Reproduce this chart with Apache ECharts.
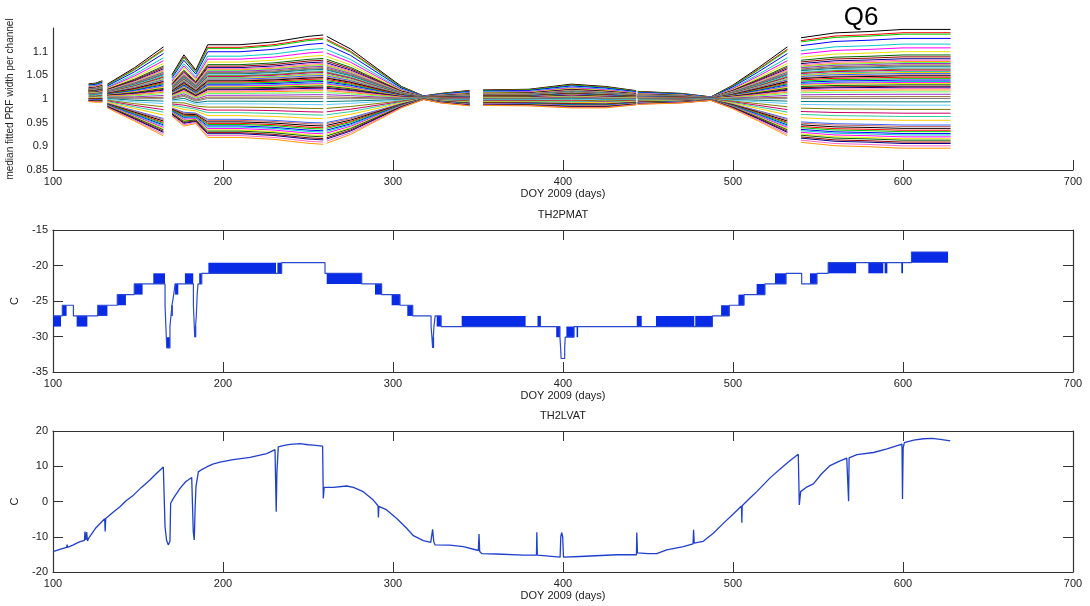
<!DOCTYPE html>
<html><head><meta charset="utf-8">
<script src="https://cdn.jsdelivr.net/npm/echarts@6/dist/echarts.min.js"></script>
<style>html,body{margin:0;padding:0;background:#fff}#chart{width:1090px;height:606px}</style>
</head><body><div id="chart"></div>
<script>
// ---------- Panel 1: median fitted PRF width per channel ----------
// key days of each quarter segment (gap markers break the lines)
const prfKeyDays = [121,125,129,130.5, 132,148,165,167.5, 170,177,184,191,210,230,250,259,260.3,
  261,275,290,305,318,328,345,352, 353,380,405,425,443,443.5, 444,470,487,500,515,532,536, 540,560,580,600,628];
// common offset of all channels at each key day (null = gap)
const prfShift = [0.01,0.01,0.012,null, 0.002,0,0,null, 0,0.005,-0.005,0,0,0,0,0,null,
  0,0,0,0,0.002,0,-0.001,null, 0,0,0.002,0,0,null, 0,0,0,0,0,0,null, 0,0,0,0,0];
// relative fan-out of the channels at each key day (1 = spread seen in Q6)
const prfSpread = [0.15,0.16,0.18,null, 0.2,0.45,0.75,null, 0.35,0.6,0.45,0.78,0.78,0.82,0.9,0.92,null,
  0.9,0.72,0.45,0.18,0.03,0.08,0.13,null, 0.13,0.14,0.2,0.18,0.12,null, 0.11,0.08,0.03,0.2,0.45,0.75,null, 0.88,0.95,0.97,1,1];
// deviation of each channel from 1, read in Q6
const prfChannelDev = [0.147,0.140,0.137,0.128,0.116,0.108,0.100,0.093,0.089,0.085,0.082,0.079,0.077,0.075,0.072,
  0.070,0.068,0.065,0.063,0.061,0.058,0.056,0.054,0.051,0.049,0.046,0.043,0.040,0.037,0.035,0.033,0.030,0.027,
  0.025,0.022,0.019,0.015,0.010,0.005,0.001,-0.006,-0.013,-0.022,-0.030,-0.037,-0.045,-0.055,-0.058,-0.062,
  -0.066,-0.069,-0.073,-0.076,-0.080,-0.084,-0.087,-0.091,-0.094,-0.099,-0.104];
const prfColors = ['#000000','#ff0000','#00cc00','#0000ff','#00cccc','#ff00ff','#e6e600','#006600','#990000',
  '#000080','#ff66cc','#ff9900','#66ff66','#9933cc','#996633','#808080','#008080','#66ccff','#808000','#cc0066',
  '#33cc99','#ffcc00','#3366ff','#cc6666'];

// ---------- Panel 2: TH2PMAT ----------
const pmatPathDays = [100,105.5,112,126.3,137.8,147.8,165.9,166.4,166.9,168.8,169.4,170,171,171.8,182.6,183.1,183.4,
  184.3,184.8,185.3,187.5,234.5,260,281.6,293.3,304.1,311.6,322.4,322.9,323.3,324.1,324.8,328.3,398.2,398.6,398.9,
  401,401.3,406.5,487.9,497.8,506.5,518.8,531.2,540.4,549.4,556,605,626.5];
const pmatPathLevels = [-27.1,-25.6,-27.1,-25.6,-24.1,-22.6,-25.6,-28.6,-31.6,-28.6,-27.1,-25.6,-24.1,-22.6,-25.6,-28.6,-30.1,
  -27.1,-24.1,-22.6,-21.1,-19.6,-21.1,-22.6,-24.1,-25.6,-27.1,-28.6,-30.1,-31.6,-28.6,-27.1,-28.6,-30.1,-31.6,-33.1,
  -31.6,-30.1,-28.6,-27.1,-25.6,-24.1,-22.6,-21.1,-22.6,-21.1,-19.6,-18.1,-18.1];
// [start day, end day, low level, high level] of rapid toggling blocks
const pmatBlocks = [
  [100,104.7,-28.6,-27.1],[105.5,108,-27.1,-25.6],[113.9,120.2,-28.6,-27.1],[126.3,132,-27.1,-25.6],
  [137.8,142.9,-25.6,-24.1],[147.8,152.7,-24.1,-22.6],[159,165.9,-22.6,-21.1],[166.9,168.8,-31.6,-30.1],
  [169.6,170.3,-27.1,-25.6],[171.8,173.7,-24.1,-22.6],[177.6,182.5,-22.6,-21.1],[183.4,184.2,-30.1,-28.6],
  [186,187.5,-22.6,-21.1],[191.4,231.2,-21.1,-19.6],[232,234.5,-21.1,-19.6],[261,281.6,-22.6,-21.1],
  [289.4,293.3,-24.1,-22.6],[299.2,304.1,-25.6,-24.1],[308.4,311.6,-27.1,-25.6],[323.3,324.1,-31.6,-30.1],
  [325.7,328.3,-28.6,-27.1],[340.4,378,-28.6,-27.1],[385,387,-28.6,-27.1],[396,398.2,-30.1,-28.6],
  [402,406.5,-30.1,-28.6],[408,408.5,-30.1,-28.6],[443.4,446.3,-28.6,-27.1],[454.7,477.2,-28.6,-27.1],
  [477.8,487.9,-28.6,-27.1],[493,497.8,-27.1,-25.6],[503.2,506.5,-25.6,-24.1],[513.9,518.8,-24.1,-22.6],
  [524.7,531.2,-22.6,-21.1],[545.3,549.4,-22.6,-21.1],[556,572.4,-21.1,-19.6],[579.6,588.4,-21.1,-19.6],
  [589.2,590.8,-21.1,-19.6],[599,600,-21.1,-19.6],[605,626.5,-19.6,-18.1]];

// ---------- Panel 3: TH2LVAT ----------
const lvatPoints = [[100,-14.2],[104,-13.6],[108,-13.0],[108.3,-12.2],[108.6,-13.0],[112,-12.3],[114,-11.8],[116,-11.4],
  [118.5,-11.0],[118.8,-8.5],[119.3,-10.9],[119.8,-8.7],[120.3,-11.2],[121,-10.4],[125,-7.6],[130.4,-4.9],[130.7,-8.5],
  [131,-4.8],[135,-3.2],[139.4,-1.5],[143,0.2],[147.3,1.8],[152,4.0],[157,6.1],[161,8.0],[164.9,9.8],[165.5,10.2],
  [165.9,-7.1],[166.8,-11.0],[167.8,-12.3],[168.8,-11.3],[169.2,-0.5],[170.8,0.9],[174.7,3.7],[178,5.6],[181.6,6.8],
  [182.0,7.0],[182.5,-8.5],[183.1,-10.9],[183.6,-2.0],[184.1,4.2],[185.5,8.4],[188,9.2],[190.4,9.8],[194,10.6],
  [198.2,11.2],[206,11.9],[215.9,12.5],[225.7,13.6],[230.6,14.7],[231.0,14.9],[231.3,-2.9],[231.7,8.0],[232.5,15.5],
  [236,15.9],[239.4,16.2],[245.3,16.4],[250,16.1],[253.1,16.0],[258.6,15.7],[259.0,0.9],[259.5,4.0],[264.9,4.0],
  [272.7,4.4],[276.7,4.0],[282.5,2.8],[288.4,0.4],[291.2,-1.2],[291.4,-4.5],[291.7,-1.4],[296.3,-2.4],[302.2,-4.8],
  [308,-7.6],[312,-9.7],[317.8,-11.1],[322.2,-11.6],[323.3,-7.9],[324.0,-11.4],[324.7,-12.3],[333.5,-12.4],
  [341.4,-12.8],[350.2,-13.9],[350.6,-9.2],[351,-14.2],[352.2,-14.8],[361,-14.9],[376.7,-15.2],[384.4,-15.2],
  [384.6,-8.7],[384.9,-15.2],[398.3,-15.8],[398.7,-10.0],[399.2,-8.8],[399.8,-10.0],[400.3,-15.8],[401.2,-15.8],
  [410,-15.6],[431.6,-15.1],[443.2,-15.1],[443.4,-8.8],[443.8,-14.6],[450,-14.8],[455.1,-14.8],[461,-13.7],
  [470.8,-12.8],[476.5,-12.0],[476.8,-8.0],[477.2,-11.8],[482.5,-11.3],[488.4,-9.0],[494.3,-6.2],[500,-3.6],
  [505,-1.3],[505.2,-6.0],[505.4,-1.2],[510,1.0],[514,2.8],[521.8,6.7],[529.6,10.0],[534,11.8],[538.4,13.4],
  [539,-1.0],[539.8,2.8],[543,4.0],[547.3,5.0],[552,7.8],[557.1,10.2],[562,11.3],[566.9,12.3],[567.8,12.4],
  [568,0.1],[568.3,12.4],[572.9,13.3],[582.7,13.9],[590.6,14.9],[599.4,16.3],[599.7,0.7],[600.1,15.2],[600.8,16.7],
  [606.3,17.4],[612,17.8],[617.1,17.9],[622,17.6],[627.8,17.2]];

const xTicks = {min:100, max:700, interval:100};

// ---------- chart ----------
const FONT = '"Liberation Sans", Arial, sans-serif';
const AX = '#333';
function xAx(grid, pos, showLabel, name) {
  return {type:'value', gridIndex:grid, position:pos, min:xTicks.min, max:xTicks.max, interval:xTicks.interval,
    axisLine:{show:true, onZero:false, lineStyle:{color:AX, width:1.2}},
    axisTick:{show:true, inside:true, length:10, lineStyle:{color:AX, width:1}},
    axisLabel:{show:showLabel, margin:6, color:'#222', fontSize:11, fontFamily:FONT, formatter:v=>String(v)},
    splitLine:{show:false},
    name:name||'', nameLocation:'middle', nameGap:18,
    nameTextStyle:{color:'#222', fontSize:11, fontFamily:FONT}};
}
function yAx(grid, pos, min, max, interval, showLabel, name, nameGap, opts) {
  return Object.assign({type:'value', gridIndex:grid, position:pos, min:min, max:max, interval:interval,
    axisLine:{show:true, onZero:false, lineStyle:{color:AX, width:1.2}},
    axisTick:{show:true, inside:true, length:10, lineStyle:{color:AX, width:1}},
    axisLabel:{show:showLabel, margin:5, color:'#222', fontSize:11, fontFamily:FONT},
    splitLine:{show:false},
    name:name||'', nameLocation:'middle', nameGap:nameGap||30, nameRotate:90,
    nameTextStyle:{color:'#222', fontSize:11, fontFamily:FONT}}, opts||{});
}

const series = [];
prfChannelDev.forEach((dev, i) => {
  series.push({type:'line', xAxisIndex:0, yAxisIndex:0, symbol:'none', silent:true, connectNulls:false,
    animation:false, lineStyle:{width:1, color:prfColors[i % prfColors.length]},
    data: prfKeyDays.map((d, j) => prfSpread[j] === null ? [d, '-'] : [d, 1 + prfShift[j] + dev * prfSpread[j]])});
});
series.push({type:'custom', xAxisIndex:1, yAxisIndex:1, silent:true, animation:false,
  encode:{x:[0,1], y:[2,3]}, data:pmatBlocks,
  renderItem:function(params, api){
    const p1 = api.coord([api.value(0), api.value(3)]);
    const p2 = api.coord([api.value(1), api.value(2)]);
    return {type:'rect', shape:{x:p1[0], y:p1[1], width:Math.max(p2[0]-p1[0], 1.5), height:p2[1]-p1[1]},
      style:{fill:'#0a2be6'}};
  }});
series.push({type:'line', xAxisIndex:1, yAxisIndex:1, step:'end', symbol:'none', silent:true, animation:false,
  lineStyle:{width:1.2, color:'#2a48d6'}, data:pmatPathDays.map((d, i) => [d, pmatPathLevels[i]])});
series.push({type:'line', xAxisIndex:3, yAxisIndex:3, symbol:'none', silent:true, animation:false,
  lineStyle:{width:1.3, color:'#2040cc'}, data:lvatPoints});

const chart = echarts.init(document.getElementById('chart'), null, {renderer:'canvas'});
chart.setOption({
  backgroundColor:'#fff',
  animation:false,
  textStyle:{fontFamily:FONT},
  grid:[
    {left:53, top:28, width:1020, height:142, outerBoundsMode:'none'},
    {left:53, top:230, width:1020, height:142, outerBoundsMode:'none'},
    {left:53, top:431, width:1020, height:141, outerBoundsMode:'none'}
  ],
  xAxis:[
    xAx(0,'bottom',true,'DOY 2009 (days)'),
    xAx(1,'bottom',true,'DOY 2009 (days)'),
    xAx(1,'top',false,''),
    xAx(2,'bottom',true,'DOY 2009 (days)'),
    xAx(2,'top',false,'')
  ],
  yAxis:[
    yAx(0,'left',0.85,1.15,0.05,true,'median fitted PRF width per channel',38,{
      axisTick:{show:false},
      axisLabel:{show:true, margin:5, color:'#222', fontSize:11, fontFamily:FONT,
        formatter:v => Math.abs(v-1.15) < 1e-6 ? '' : String(+v.toFixed(2))},
      nameTextStyle:{color:'#222', fontSize:10, fontFamily:FONT}}),
    yAx(1,'left',-35,-15,5,true,'C',33),
    yAx(1,'right',-35,-15,5,false,''),
    yAx(2,'left',-20,20,10,true,'C',33),
    yAx(2,'right',-20,20,10,false,'')
  ],
  graphic:[
    {type:'text', x:861, y:18, style:{text:'Q6', fontSize:26, fontFamily:FONT, fill:'#000', align:'center', verticalAlign:'middle'}},
    {type:'text', x:563, y:215, style:{text:'TH2PMAT', fontSize:11, fontFamily:FONT, fill:'#222', align:'center', verticalAlign:'middle'}},
    {type:'text', x:563, y:416, style:{text:'TH2LVAT', fontSize:11, fontFamily:FONT, fill:'#222', align:'center', verticalAlign:'middle'}}
  ],
  series:series
});
</script></body></html>
